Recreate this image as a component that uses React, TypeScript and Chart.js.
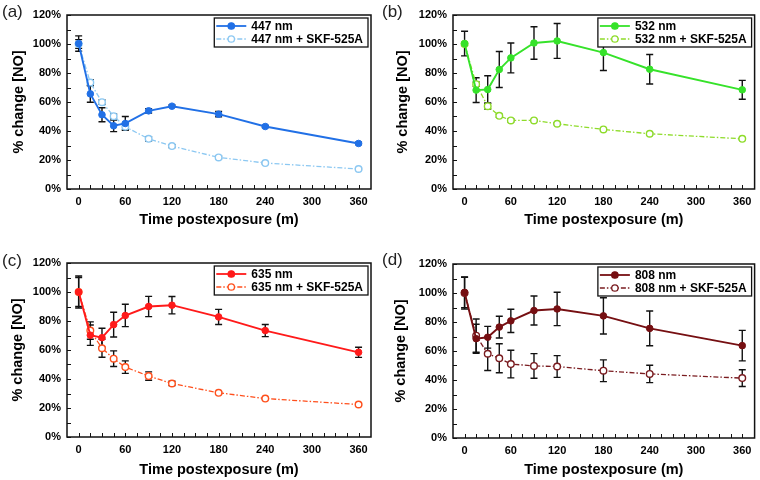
import React, { useEffect, useRef } from 'react';
import { Chart, registerables } from 'chart.js';

Chart.register(...registerables);

// ---------- data ----------
const times = [0, 15, 30, 45, 60, 90, 120, 180, 240, 360];
const xTickValues = [0, 15, 30, 45, 60, 75, 90, 105, 120, 135, 150, 165, 180, 195, 210, 225, 240, 255, 270, 285, 300, 315, 330, 345, 360];
const xLabelValues = [0, 60, 120, 180, 240, 300, 360];
const yTickValues = [0, 10, 20, 30, 40, 50, 60, 70, 80, 90, 100, 110, 120];
const yLabelValues = [0, 20, 40, 60, 80, 100, 120];

const nm447 = [100.3, 65.6, 51.2, 43.6, 45.2, 53.9, 57.1, 51.6, 43.1, 31.4];
const nm447Err = [5.3, 5.8, 4.8, 4.0, 4.8, 1.5, 0.8, 1.8, 0.8, 0.8];
const nm447Skf = [100, 73.4, 59.9, 50.2, 42.9, 34.6, 29.6, 21.8, 17.9, 13.8];
const nm447SkfErr = [3, 2, 1.5, 1.5, 2, 1.5, 1, 1, 0.5, 0.5];

const nm532 = [100.3, 68.2, 68.6, 82.4, 90.4, 100.7, 102.1, 94.1, 82.6, 68.4];
const nm532Err = [8.5, 8.5, 9.5, 12.4, 10.3, 11.2, 12, 12.4, 10.2, 6.5];
const nm532Skf = [100, 72.3, 57.1, 50.5, 47.3, 47.3, 45, 41.1, 38.1, 34.6];
const nm532SkfErr = [1, 1.5, 2, 1, 1, 0.5, 0.5, 0.5, 0.5, 0.5];

const nm635 = [100, 70.2, 68.5, 77.5, 83.8, 90, 90.9, 82.8, 73.4, 58.4];
const nm635Err = [11, 7, 6.5, 8.5, 7.7, 7, 6, 5.2, 4.2, 3.5];
const nm635Skf = [100, 73.4, 61.2, 54, 48.2, 42, 36.9, 30.5, 26.5, 22.4];
const nm635SkfErr = [10, 6, 6.2, 5.4, 4.3, 2.9, 1.5, 0.8, 0.5, 0.5];

const nm808 = [100.4, 68.5, 69.5, 76.5, 80.8, 87.9, 89, 84.2, 75.6, 63.7];
const nm808Err = [10.5, 10, 7.5, 7.5, 8, 10, 11.5, 12.5, 12, 10.5];
const nm808Skf = [100, 70.6, 58.1, 55, 51, 49.7, 49.3, 46.4, 44.2, 41.3];
const nm808SkfErr = [11, 11.5, 11.5, 10, 9.5, 8.5, 7.5, 7.5, 6, 5.8];

const panelLetters = ['(a)', '(b)', '(c)', '(d)'];
const mainNames = ['447 nm', '532 nm', '635 nm', '808 nm'];
const skfNames = ['447 nm + SKF-525A', '532 nm + SKF-525A', '635 nm + SKF-525A', '808 nm + SKF-525A'];
const xTitle = 'Time postexposure (m)';
const yTitle = '% change [NO]';

// ---------- styles / layout ----------
const FONT = "'Liberation Sans', Arial, Helvetica, sans-serif";
const PW = 380;
const PH = 240;

type PanelCfg = {
  idx: number;
  main: number[]; mainErr: number[];
  skf: number[]; skfErr: number[];
  mainColor: string; skfColor: string;
  left: number; right: number; top: number; bottom: number;
  yTitleX: number; xTitleY: number; letterY: number;
  pos: [number, number];
};

const panels: PanelCfg[] = [
  { idx: 0, main: nm447, mainErr: nm447Err, skf: nm447Skf, skfErr: nm447SkfErr,
    mainColor: '#2170e6', skfColor: '#8cc8f2',
    left: 67, right: 371, top: 15, bottom: 189, yTitleX: 19, xTitleY: 220, letterY: 12, pos: [0, 0] },
  { idx: 1, main: nm532, mainErr: nm532Err, skf: nm532Skf, skfErr: nm532SkfErr,
    mainColor: '#36e22a', skfColor: '#8edc2a',
    left: 73, right: 377, top: 15, bottom: 189, yTitleX: 22.5, xTitleY: 220, letterY: 12, pos: [380, 0] },
  { idx: 2, main: nm635, mainErr: nm635Err, skf: nm635Skf, skfErr: nm635SkfErr,
    mainColor: '#ff1a1a', skfColor: '#ff4f1c',
    left: 67, right: 371, top: 23, bottom: 197, yTitleX: 17.5, xTitleY: 230, letterY: 21, pos: [0, 240] },
  { idx: 3, main: nm808, mainErr: nm808Err, skf: nm808Skf, skfErr: nm808SkfErr,
    mainColor: '#760f12', skfColor: '#7a1c20',
    left: 73, right: 377, top: 24, bottom: 198, yTitleX: 20.5, xTitleY: 229.5, letterY: 20.5, pos: [380, 240] },
];

const SKF_DASH = [5, 2, 1.5, 2];

function Panel({ cfg }: { cfg: PanelCfg }) {
  const ref = useRef<HTMLCanvasElement | null>(null);

  useEffect(() => {
    const canvas = ref.current;
    if (!canvas) return;
    const errs = [cfg.mainErr, cfg.skfErr];

    const decor = {
      id: 'decor',
      beforeDatasetsDraw(chart: any) {
        const ctx = chart.ctx;
        const ys = chart.scales.y;
        ctx.save();
        ctx.strokeStyle = '#111';
        ctx.lineWidth = 1.4;
        chart.data.datasets.forEach((ds: any, i: number) => {
          const meta = chart.getDatasetMeta(i);
          const e = errs[i];
          meta.data.forEach((pt: any, j: number) => {
            const v = ds.data[j].y;
            const t = ys.getPixelForValue(v + e[j]);
            const b = ys.getPixelForValue(v - e[j]);
            const x = pt.x;
            ctx.beginPath();
            ctx.moveTo(x, t); ctx.lineTo(x, b);
            ctx.moveTo(x - 3.5, t); ctx.lineTo(x + 3.5, t);
            ctx.moveTo(x - 3.5, b); ctx.lineTo(x + 3.5, b);
            ctx.stroke();
          });
        });
        ctx.restore();
      },
      afterDraw(chart: any) {
        const ctx = chart.ctx;
        const a = chart.chartArea;
        const xs = chart.scales.x;
        const ys = chart.scales.y;
        ctx.save();
        // ticks (inward)
        ctx.strokeStyle = '#111';
        ctx.lineWidth = 1;
        ctx.beginPath();
        xTickValues.forEach((v) => {
          const x = Math.round(xs.getPixelForValue(v)) + 0.5;
          ctx.moveTo(x, a.bottom); ctx.lineTo(x, a.bottom - 4);
        });
        yTickValues.forEach((v) => {
          const y = Math.round(ys.getPixelForValue(v)) + 0.5;
          ctx.moveTo(a.left, y); ctx.lineTo(a.left + 4, y);
        });
        ctx.stroke();
        // frame
        ctx.lineWidth = 1.5;
        ctx.strokeRect(a.left, a.top, a.right - a.left, a.bottom - a.top);

        // legend
        ctx.font = `bold 12px ${FONT}`;
        const names = [mainNames[cfg.idx], skfNames[cfg.idx]];
        const tw = Math.max(...names.map((n) => ctx.measureText(n).width));
        const lw = 37 + tw + 5;
        const lh = 29;
        const lx = a.right - 3 - lw;
        const ly = a.top + 3;
        ctx.fillStyle = '#fff';
        ctx.fillRect(lx, ly, lw, lh);
        ctx.lineWidth = 1.3;
        ctx.strokeStyle = '#111';
        ctx.strokeRect(lx, ly, lw, lh);
        const rows = [ly + 8, ly + 21];
        const colors = [cfg.mainColor, cfg.skfColor];
        rows.forEach((ry, i) => {
          ctx.strokeStyle = colors[i];
          ctx.lineWidth = i === 0 ? 1.8 : 1.3;
          ctx.setLineDash(i === 0 ? [] : SKF_DASH);
          ctx.beginPath();
          ctx.moveTo(lx + 2, ry); ctx.lineTo(lx + 32, ry);
          ctx.stroke();
          ctx.setLineDash([]);
          ctx.beginPath();
          ctx.arc(lx + 17, ry, 3.2, 0, Math.PI * 2);
          ctx.fillStyle = i === 0 ? colors[i] : '#fff';
          ctx.fill();
          ctx.lineWidth = 1.3;
          ctx.stroke();
          ctx.fillStyle = '#000';
          ctx.textAlign = 'left';
          ctx.textBaseline = 'middle';
          ctx.fillText(names[i], lx + 37, ry + 0.5);
        });

        // panel letter
        ctx.font = `17px ${FONT}`;
        ctx.fillStyle = '#222';
        ctx.textAlign = 'left';
        ctx.textBaseline = 'middle';
        ctx.fillText(panelLetters[cfg.idx], 2, cfg.letterY);
        ctx.restore();
      },
    };

    const tickFont = { family: FONT, size: 11, weight: 'bold' as const };
    const titleFont = { family: FONT, size: 14.5, weight: 'bold' as const };

    const chart = new Chart(canvas, {
      type: 'line',
      data: {
        datasets: [
          {
            label: mainNames[cfg.idx],
            data: times.map((t, i) => ({ x: t, y: cfg.main[i] })),
            borderColor: cfg.mainColor,
            backgroundColor: cfg.mainColor,
            borderWidth: 1.9,
            pointRadius: 3.3,
            pointBackgroundColor: cfg.mainColor,
            pointBorderColor: cfg.mainColor,
            pointBorderWidth: 1,
            tension: 0,
          },
          {
            label: skfNames[cfg.idx],
            data: times.map((t, i) => ({ x: t, y: cfg.skf[i] })),
            borderColor: cfg.skfColor,
            backgroundColor: '#fff',
            borderWidth: 1.3,
            borderDash: SKF_DASH,
            pointRadius: 3.3,
            pointBackgroundColor: '#fff',
            pointBorderColor: cfg.skfColor,
            pointBorderWidth: 1.4,
            tension: 0,
          },
        ],
      },
      options: {
        responsive: false,
        animation: false,
        events: [],
        layout: { padding: { left: 0, top: cfg.top, right: PW - cfg.right, bottom: 0 } },
        plugins: { legend: { display: false }, tooltip: { enabled: false } },
        scales: {
          x: {
            type: 'linear',
            min: -15,
            max: 376,
            afterBuildTicks: (s: any) => { s.ticks = xTickValues.map((v) => ({ value: v })); },
            afterFit: (s: any) => { s.height = PH - cfg.bottom; },
            ticks: {
              autoSkip: false,
              maxRotation: 0,
              padding: 6,
              color: '#000',
              font: tickFont,
              callback: (v: any) => (xLabelValues.includes(Number(v)) ? String(v) : ''),
            },
            grid: { display: false, drawTicks: false, tickLength: 0 },
            border: { display: false },
            title: {
              display: true,
              text: xTitle,
              color: '#000',
              font: titleFont,
              padding: { top: 0, bottom: PH - cfg.xTitleY - 8.7 },
            },
          },
          y: {
            type: 'linear',
            min: 0,
            max: 120,
            afterBuildTicks: (s: any) => { s.ticks = yTickValues.map((v) => ({ value: v })); },
            afterFit: (s: any) => { s.width = cfg.left; },
            ticks: {
              autoSkip: false,
              padding: 6,
              color: '#000',
              font: tickFont,
              callback: (v: any) => (yLabelValues.includes(Number(v)) ? `${v}%` : ''),
            },
            grid: { display: false, drawTicks: false, tickLength: 0 },
            border: { display: false },
            title: {
              display: true,
              text: yTitle,
              color: '#000',
              font: titleFont,
              padding: { top: cfg.yTitleX - 8.7, bottom: 0 },
            },
          },
        },
      },
      plugins: [decor],
    } as any);

    return () => chart.destroy();
  }, [cfg]);

  return (
    <canvas
      ref={ref}
      width={PW}
      height={PH}
      style={{ position: 'absolute', left: cfg.pos[0], top: cfg.pos[1], width: PW, height: PH }}
    />
  );
}

export default function App() {
  return (
    <div style={{ position: 'fixed', left: 0, top: 0, width: 760, height: 480, background: '#fff', overflow: 'hidden' }}>
      {panels.map((p) => (
        <Panel key={p.idx} cfg={p} />
      ))}
    </div>
  );
}
